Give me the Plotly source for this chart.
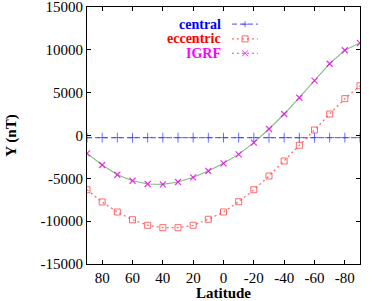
import plotly.graph_objects as go

latitude = [90, 80, 70, 60, 50, 40, 30, 20, 10, 0, -10, -20, -30, -40, -50, -60, -70, -80, -90]
central = [-250] * 19
eccentric = [-6330, -7760, -8930, -9830, -10480, -10760, -10760, -10480, -9780, -8930,
             -7730, -6330, -4730, -2980, -1140, 640, 2510, 4300, 5810]
igrf = [-2080, -3440, -4580, -5280, -5660, -5700, -5430, -4880, -4140, -3250,
        -2200, -840, 760, 2510, 4410, 6400, 8380, 9950, 10800]
x_ticks = [80, 60, 40, 20, 0, -20, -40, -60, -80]
y_ticks = [-15000, -10000, -5000, 0, 5000, 10000, 15000]

FONT = "Liberation Serif"
BLUE = "rgba(60,60,255,0.75)"
RED = "rgba(255,70,70,0.8)"
GREEN = "rgba(100,170,100,0.8)"
MAG = "rgba(230,0,230,0.8)"

fig = go.Figure()
fig.add_trace(go.Scatter(x=latitude, y=central, mode="lines+markers",
                         line=dict(color=BLUE, width=1.2, dash="5px,3px"),
                         marker=dict(symbol="cross-thin-open", size=7, color=BLUE, line=dict(width=1, color=BLUE)),
                         name="central"))
fig.add_trace(go.Scatter(x=latitude, y=eccentric, mode="lines+markers",
                         line=dict(color=RED, width=1.3, dash="2px,3px"),
                         marker=dict(symbol="square-open", size=6, color=RED, line=dict(width=1, color=RED)),
                         name="eccentric"))
fig.add_trace(go.Scatter(x=latitude, y=igrf, mode="lines",
                         line=dict(color=GREEN, width=1.1), name="fit", showlegend=False))
fig.add_trace(go.Scatter(x=latitude, y=igrf, mode="markers",
                         marker=dict(symbol="x-thin-open", size=6, color=MAG, line=dict(width=1.2, color=MAG)),
                         name="IGRF"))

# gnuplot-style key (text right-aligned, sample to its right)
labels = [("central", "blue", BLUE, "5px,3px"), ("eccentric", "red", RED, "2px,3px"), ("IGRF", "magenta", MAG, "2px,3px")]
rows = [0.933, 0.876, 0.820]
for (lab, tcol, lcol, dash), yy in zip(labels, rows):
    fig.add_annotation(x=0.498, y=yy, xref="paper", yref="paper", text="<b>%s</b>" % lab,
                       showarrow=False, xanchor="right", yanchor="middle",
                       font=dict(family=FONT, size=14, color=tcol))
    fig.add_shape(type="line", xref="paper", yref="paper", x0=0.531, x1=0.626, y0=yy, y1=yy,
                  line=dict(color=lcol, width=1.2, dash=dash))
# key glyphs
cx = 0.579
dx = 3.0 / 273
dy = 3.0 / 257
y0 = rows[0]
fig.add_shape(type="line", xref="paper", yref="paper", x0=cx - dx, x1=cx + dx, y0=y0, y1=y0, line=dict(color=BLUE, width=1))
fig.add_shape(type="line", xref="paper", yref="paper", x0=cx, x1=cx, y0=y0 - dy, y1=y0 + dy, line=dict(color=BLUE, width=1))
y1 = rows[1]
fig.add_shape(type="rect", xref="paper", yref="paper", x0=cx - dx, x1=cx + dx, y0=y1 - dy, y1=y1 + dy, line=dict(color=RED, width=1))
y2 = rows[2]
fig.add_shape(type="line", xref="paper", yref="paper", x0=cx - dx, x1=cx + dx, y0=y2 - dy, y1=y2 + dy, line=dict(color=MAG, width=1))
fig.add_shape(type="line", xref="paper", yref="paper", x0=cx - dx, x1=cx + dx, y0=y2 + dy, y1=y2 - dy, line=dict(color=MAG, width=1))

axis_common = dict(showgrid=False, zeroline=False, showline=True, linecolor="black", linewidth=1,
                   mirror="allticks", ticks="inside", ticklen=4, tickcolor="black", automargin=False,
                   ticklabeloverflow="allow",
                   tickfont=dict(family=FONT, size=15, color="black"))
fig.update_xaxes(range=[90, -90], tickvals=x_ticks, ticktext=[str(v) for v in x_ticks],
                 title=dict(text="<b>Latitude</b>", font=dict(family=FONT, size=15, color="black"), standoff=0),
                 tickprefix="<b>", ticksuffix="</b>", **axis_common)
fig.update_yaxes(range=[-15000, 15000], tickvals=y_ticks, ticktext=[str(v) for v in y_ticks],
                 title=dict(text="<b>Y (nT)</b>", font=dict(family=FONT, size=15, color="black"), standoff=20),
                 tickprefix="<b>", ticksuffix="</b>", **axis_common)
fig.update_layout(width=382, height=301, margin=dict(l=87, r=22, t=7, b=37),
                  plot_bgcolor="white", paper_bgcolor="white", showlegend=False)
fig.write_html("out.html", config={"displayModeBar": False},
               post_script="document.body.style.margin='0';document.body.style.overflow='hidden';")
